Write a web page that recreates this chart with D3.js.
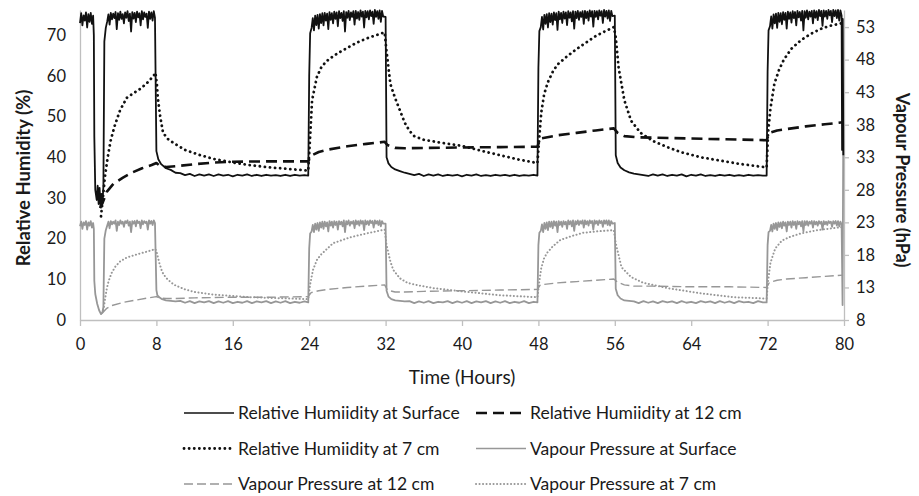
<!DOCTYPE html>
<html>
<head>
<meta charset="utf-8">
<script src="https://cdn.jsdelivr.net/npm/d3@7"></script>
<style>
  body { margin: 0; background: #fff; }
  text { font-family: Lato, "Open Sans", sans-serif; fill: #1a1a1a; }
</style>
</head>
<body>
<div id="chart"></div>
<script>
// tick labels
var hourTicks = [0, 8, 16, 24, 32, 40, 48, 56, 64, 72, 80];
var rhTicks = [0, 10, 20, 30, 40, 50, 60, 70];
var vpTicks = [8, 13, 18, 23, 28, 33, 38, 43, 48, 53];

// noisy stretches of the surface sensor
// (high phases every 0.125 h, low phases every 0.5 h)
var rhSurfHigh0 = [73.0, 75.4, 72.4, 74.9, 73.6, 75.6, 71.9, 75.2, 73.3, 75.5, 72.8, 74.8];
var rhSurfHigh1 = [
  73.4, 75.1, 72.6, 75.5, 73.9, 75.3, 74.2, 75.7, 71.5, 75.4,
  73.8, 75.8, 74.0, 75.2, 72.9, 75.6, 74.3, 75.9, 73.5, 75.3,
  70.9, 75.7, 74.1, 75.5, 73.2, 75.8, 74.4, 75.4, 72.4, 75.9,
  73.9, 75.6, 74.5, 75.3, 71.8, 75.8, 74.0, 75.6, 73.6, 75.9,
  74.3];
var rhSurfHigh2 = [
  71.8, 74.2, 71.2, 74.8, 72.5, 75.0, 71.6, 75.2, 73.0, 75.4,
  72.4, 75.5, 73.6, 75.3, 71.5, 75.7, 73.8, 75.4, 72.9, 75.8,
  74.0, 75.6, 72.2, 75.9, 74.2, 75.5, 73.5, 75.9, 70.9, 75.7,
  74.3, 76.0, 73.7, 75.6, 74.5, 75.9, 72.6, 76.0, 74.1, 75.7,
  73.8, 76.1, 74.6, 75.8, 71.9, 76.0, 74.4, 75.9, 73.9, 76.1,
  74.7, 75.8, 72.8, 76.2, 74.5, 75.9, 74.0, 76.1, 73.3, 76.0,
  74.6];
var rhSurfHigh3 = [
  72.0, 74.5, 71.4, 75.0, 72.8, 75.2, 71.9, 75.4, 73.2, 75.3,
  72.6, 75.6, 73.7, 75.4, 71.3, 75.8, 73.9, 75.5, 73.0, 75.8,
  74.1, 75.6, 72.5, 75.9, 74.3, 75.6, 73.4, 75.9, 71.6, 75.8,
  74.2, 76.0, 73.8, 75.7, 74.5, 75.9, 72.8, 76.0, 74.2, 75.8,
  73.6, 76.1, 74.6, 75.9, 72.1, 76.0, 74.5, 75.9, 73.9, 76.1,
  74.8, 75.9, 73.0, 76.2, 74.6, 76.0, 74.1, 76.1, 73.5, 76.0,
  74.7];
var rhSurfHigh4 = [
  72.2, 74.6, 71.6, 75.1, 72.9, 75.3, 71.8, 75.5, 73.3, 75.4,
  72.7, 75.7, 73.8, 75.5, 71.6, 75.8, 74.0, 75.6, 73.1, 75.9,
  74.2, 75.7, 72.4, 76.0, 74.4, 75.7, 73.6, 76.0, 71.2, 75.9,
  74.3, 76.1, 73.9, 75.8, 74.6, 76.0, 72.9, 76.1, 74.3, 75.9,
  73.7, 76.2, 74.7, 76.0, 72.3, 76.1, 74.6, 76.0, 74.0, 76.2,
  74.9, 76.0, 73.2, 76.2, 74.7, 76.1, 74.2, 76.2, 73.6, 76.1,
  74.8];
var rhSurfLow1 = [36.1, 35.6, 35.9, 35.4, 35.8, 35.5, 35.8, 35.4, 35.8, 35.5, 35.7, 35.3, 35.7, 35.5, 35.8, 35.4, 35.7, 35.4, 35.7, 35.5, 35.6, 35.4, 35.7, 35.4, 35.7, 35.5, 35.6];
var rhSurfLow2 = [35.9, 35.6, 35.9, 35.4, 35.8, 35.5, 35.8, 35.4, 35.7, 35.5, 35.7, 35.3, 35.7, 35.5, 35.8, 35.4, 35.6, 35.4, 35.7, 35.5, 35.7, 35.4, 35.7, 35.4, 35.6, 35.5, 35.7];
var rhSurfLow3 = [35.8, 35.6, 35.4, 35.8, 35.5, 35.8, 35.4, 35.7, 35.5, 35.8, 35.3, 35.7, 35.5, 35.8, 35.4, 35.6, 35.4, 35.7, 35.5, 35.7, 35.4, 35.6, 35.4, 35.7, 35.5, 35.6, 35.5];

var vpSurfHigh0 = [22.4, 23.1, 22.0, 23.0, 22.6, 23.2, 21.9, 23.0, 22.5, 23.2, 22.2, 22.9];
var vpSurfHigh1 = [
  22.5, 23.1, 22.1, 23.2, 22.7, 23.1, 22.8, 23.3, 21.7, 23.1,
  22.6, 23.3, 22.8, 23.1, 22.3, 23.2, 22.9, 23.3, 22.5, 23.1,
  21.5, 23.2, 22.8, 23.2, 22.4, 23.3, 22.9, 23.1, 22.1, 23.3,
  22.7, 23.2, 22.9, 23.1, 21.9, 23.3, 22.8, 23.2, 22.6, 23.3,
  22.9];
var vpSurfHigh2 = [
  21.6, 22.6, 21.5, 22.8, 21.9, 22.9, 21.7, 23.0, 22.2, 23.1,
  22.0, 23.1, 22.4, 23.0, 21.6, 23.2, 22.5, 23.1, 22.2, 23.2,
  22.6, 23.1, 21.9, 23.2, 22.7, 23.1, 22.4, 23.3, 21.5, 23.2,
  22.7, 23.3, 22.5, 23.1, 22.8, 23.2, 22.1, 23.3, 22.7, 23.2,
  22.5, 23.3, 22.8, 23.2, 21.8, 23.3, 22.7, 23.2, 22.6, 23.3,
  22.9, 23.2, 22.2, 23.3, 22.8, 23.2, 22.6, 23.3, 22.4, 23.2,
  22.8];
var vpSurfHigh3 = [
  21.7, 22.7, 21.5, 22.9, 22.0, 23.0, 21.8, 23.1, 22.3, 23.1,
  22.1, 23.2, 22.5, 23.1, 21.5, 23.2, 22.6, 23.1, 22.3, 23.2,
  22.7, 23.1, 22.0, 23.3, 22.7, 23.2, 22.4, 23.3, 21.7, 23.2,
  22.7, 23.3, 22.6, 23.2, 22.8, 23.3, 22.2, 23.3, 22.7, 23.2,
  22.5, 23.3, 22.9, 23.2, 21.9, 23.3, 22.8, 23.2, 22.6, 23.3,
  22.9, 23.2, 22.3, 23.3, 22.8, 23.3, 22.6, 23.3, 22.5, 23.2,
  22.8];
var vpSurfHigh4 = [
  21.7, 22.6, 21.6, 22.8, 22.0, 22.9, 21.8, 23.0, 22.3, 23.0,
  22.1, 23.1, 22.5, 23.0, 21.6, 23.1, 22.6, 23.1, 22.2, 23.2,
  22.6, 23.1, 22.0, 23.2, 22.7, 23.1, 22.4, 23.2, 21.6, 23.2,
  22.6, 23.2, 22.5, 23.1, 22.8, 23.2, 22.2, 23.2, 22.7, 23.1,
  22.5, 23.2, 22.8, 23.1, 21.9, 23.2, 22.7, 23.1, 22.6, 23.2,
  22.9, 23.1, 22.3, 23.2, 22.8, 23.2, 22.5, 23.2, 22.4, 23.1,
  22.7];
var vpSurfLow1 = [10.95, 10.65, 10.9, 10.6, 10.85, 10.7, 10.9, 10.6, 10.85, 10.65, 10.9, 10.6, 10.8, 10.65, 10.9, 10.6, 10.85, 10.7, 10.9, 10.6, 10.85, 10.65, 10.9, 10.6, 10.8, 10.65, 10.85];
var vpSurfLow2 = [10.9, 10.6, 10.85, 10.65, 10.9, 10.6, 10.8, 10.7, 10.9, 10.6, 10.85, 10.65, 10.9, 10.6, 10.85, 10.7, 10.9, 10.6, 10.85, 10.65, 10.9, 10.6, 10.8, 10.65, 10.9, 10.6, 10.8];
var vpSurfLow3 = [10.6, 10.9, 10.65, 10.85, 10.6, 10.9, 10.7, 10.85, 10.6, 10.9, 10.65, 10.8, 10.6, 10.9, 10.7, 10.85, 10.6, 10.9, 10.65, 10.85, 10.6, 10.9, 10.7, 10.8, 10.6, 10.9, 10.7];

// pair up a run of readings taken at a fixed step
function run(t0, step, vals) {
  return vals.map(function(v, i) { return [+(t0 + i * step).toFixed(3), v]; });
}

// Relative humidity (%) - left axis
var rhSurface = [].concat(
  run(0, 0.125, rhSurfHigh0),
  [[1.45, 70], [1.5, 45], [1.6, 32], [1.75, 29.5], [1.85, 33], [1.95, 28.5], [2.05, 32.5], [2.15, 27.8], [2.25, 31], [2.35, 28.5], [2.45, 33], [2.55, 68.5], [2.7, 71.8]],
  run(2.85, 0.125, rhSurfHigh1),
  [[8.0, 41.5], [8.2, 39.5], [8.5, 38.3], [9, 37.3], [9.5, 36.9], [10, 36.2]],
  run(10.5, 0.5, rhSurfLow1),
  [[23.9, 35.5], [24.0, 60], [24.1, 70.5]],
  run(24.25, 0.125, rhSurfHigh2),
  [[32.0, 74.5], [32.1, 40], [32.3, 38.5], [32.6, 37.6], [33, 37.0], [33.5, 36.6], [34, 36.2]],
  run(34.5, 0.5, rhSurfLow2),
  [[47.9, 35.5], [48.0, 62], [48.1, 71]],
  run(48.25, 0.125, rhSurfHigh3),
  [[56.0, 74.8], [56.1, 40.5], [56.3, 38.6], [56.6, 37.5], [57, 36.8], [57.5, 36.3], [58, 36.0]],
  run(58.5, 0.5, rhSurfLow3),
  [[71.9, 35.5], [72.0, 61], [72.1, 71.2]],
  run(72.25, 0.125, rhSurfHigh4),
  [[79.8, 41.8], [79.87, 74], [79.93, 40.5]]
);

var rh12 = [[2.1, 27.5], [2.4, 29], [2.8, 31.5], [3.5, 33.5], [4.5, 35], [5.5, 36.3], [6.5, 37.3], [7.5, 38.1], [8.0, 38.6],
  [8.3, 38.0], [9, 37.6], [10, 37.8], [12, 38.3], [14, 38.7], [16, 38.9], [20, 39.0], [23.9, 39.0],
  [24.2, 40.4], [25, 41.3], [26, 41.9], [28, 42.7], [30, 43.3], [31.9, 43.8],
  [32.2, 43.0], [33, 42.3], [34, 42.2], [36, 42.3], [40, 42.4], [44, 42.5], [47.9, 42.6],
  [48.2, 44.6], [50, 45.4], [52, 46.0], [54, 46.6], [55.9, 47.1],
  [56.3, 46.0], [57, 45.2], [58.5, 44.9], [64, 44.6], [71.9, 44.2],
  [72.2, 46.0], [73, 46.6], [76, 47.6], [78, 48.1], [79.9, 48.6]];

var rh7 = [[2.2, 25.5], [2.4, 30], [2.6, 35], [2.9, 40], [3.2, 44], [3.6, 47.5], [4.2, 51.6], [4.9, 54.6], [5.5, 55.6], [6.3, 56.8], [7, 58.2], [7.7, 60], [7.9, 60.8],
  [8.05, 58], [8.15, 54.5], [8.4, 50], [8.7, 46], [9.2, 44.5], [9.8, 43.5], [11, 41.8], [12.6, 40.5], [14, 39.6], [16, 38.7], [18, 38.0], [20, 37.5], [23, 36.9], [23.9, 36.7],
  [24.1, 45], [24.3, 54], [24.8, 59.7], [25.3, 62.3], [26, 64], [27, 65.6], [28, 66.9], [29, 68.2], [30, 69.2], [31, 70], [31.9, 70.7],
  [32.1, 66], [32.5, 58], [33, 54.5], [33.5, 51.5], [34, 48.5], [34.5, 46.5], [35, 45.2], [36, 44.3], [38, 43.5], [40, 42.8], [42, 41.6], [44, 40.5], [46, 39.4], [47.9, 38.6],
  [48.1, 45], [48.3, 51], [48.6, 55.5], [49, 58.5], [49.5, 61], [50, 62.8], [51, 64.8], [52, 66.6], [53, 68.2], [54, 69.8], [55, 71], [55.9, 72],
  [56.1, 69.5], [56.4, 62], [57, 54], [57.7, 49], [58.7, 46], [60, 44], [61.5, 42.5], [63, 41.2], [65, 40], [67, 39.2], [69, 38.4], [71.9, 37.5],
  [72.05, 46], [72.3, 52], [72.7, 58], [73.2, 61.5], [73.7, 64], [74.5, 66.7], [75.5, 68.8], [76.5, 70.3], [77.5, 71.5], [78.5, 72.3], [79.9, 73]];

// Vapour pressure (hPa) - right axis
var vpSurface = [].concat(
  run(0, 0.125, vpSurfHigh0),
  [[1.45, 22], [1.5, 14], [1.6, 12], [1.8, 10.5], [2.0, 9.5], [2.2, 8.9], [2.35, 9.2], [2.45, 10], [2.55, 20.5], [2.7, 21.8]],
  run(2.85, 0.125, vpSurfHigh1),
  [[8.0, 12.6], [8.1, 11.8], [8.3, 11.5], [8.6, 11.2], [9, 11.0], [10, 10.85]],
  run(10.5, 0.5, vpSurfLow1),
  [[23.9, 10.7], [24.0, 19], [24.1, 21.3]],
  run(24.25, 0.125, vpSurfHigh2),
  [[32.0, 22.8], [32.1, 12.5], [32.3, 11.6], [32.6, 11.2], [33, 11.0], [34, 10.85]],
  run(34.5, 0.5, vpSurfLow2),
  [[47.9, 10.7], [48.0, 19.5], [48.1, 21.4]],
  run(48.25, 0.125, vpSurfHigh3),
  [[56.0, 22.9], [56.1, 12.8], [56.3, 11.8], [56.6, 11.3], [57, 11.0], [58, 10.85]],
  run(58.5, 0.5, vpSurfLow3),
  [[71.9, 10.7], [72.0, 19.5], [72.1, 21.5]],
  run(72.25, 0.125, vpSurfHigh4),
  [[79.85, 10.3], [79.93, 38.2]]
);

var vp12 = [[2.3, 9.0], [2.8, 9.8], [3.3, 10.2], [4.5, 10.7], [6, 11.1], [8.0, 11.6],
  [8.3, 11.4], [9, 11.3], [10, 11.3], [12, 11.4], [16, 11.5], [20, 11.5], [23.9, 11.6],
  [24.2, 12.2], [25, 12.5], [26, 12.7], [28, 13.0], [30, 13.2], [31.9, 13.4],
  [32.2, 12.6], [33, 12.3], [34, 12.3], [36, 12.4], [40, 12.5], [44, 12.6], [47.9, 12.7],
  [48.2, 13.4], [50, 13.7], [52, 13.9], [54, 14.1], [55.9, 14.3],
  [56.3, 13.8], [57, 13.4], [58, 13.2], [60, 13.2], [64, 13.1], [68, 13.1], [71.9, 13.0],
  [72.2, 13.8], [73, 14.1], [74, 14.3], [76, 14.5], [78, 14.7], [79.9, 14.9]];

var vp7 = [[2.45, 9.5], [2.6, 11], [2.8, 12.8], [3.0, 14], [3.3, 15.2], [3.7, 16.2], [4.2, 17], [4.9, 17.6], [6, 18.1], [7, 18.5], [7.9, 18.9],
  [8.05, 18.3], [8.3, 16.8], [8.6, 15.4], [9, 14.5], [9.5, 13.8], [10, 13.3], [11, 12.7], [12, 12.3], [14, 11.9], [16, 11.7], [18, 11.5], [20, 11.4], [22, 11.3], [23.9, 11.2],
  [24.1, 13.5], [24.4, 15.7], [24.8, 17.2], [25.2, 18], [26.5, 19.8], [28.3, 20.7], [30, 21.3], [31.9, 21.9],
  [32.1, 19.5], [32.5, 17], [32.8, 15.7], [33.5, 14.4], [34.3, 13.7], [35.5, 13.3], [37, 12.9], [40, 12.4], [44, 11.8], [47.9, 11.5],
  [48.1, 14], [48.3, 16], [48.6, 17.5], [48.9, 18.3], [49.5, 19.3], [50.3, 20.3], [51.5, 20.9], [52.7, 21.4], [54, 21.6], [55.9, 21.8],
  [56.1, 19.8], [56.7, 16.1], [57.7, 14.6], [59, 13.7], [61.5, 12.9], [65, 12.1], [68.5, 11.5], [71.9, 11.3],
  [72.05, 14], [72.3, 16.8], [72.8, 19], [73.5, 20.2], [74.4, 20.8], [75.5, 21.3], [77.2, 21.8], [79.9, 22.3]];

var legendLabels = [
  "Relative Humiidity at Surface", "Relative Humiidity at 12 cm",
  "Relative Humiidity at 7 cm", "Vapour Pressure at Surface",
  "Vapour Pressure at 12 cm", "Vapour Pressure at 7 cm"
];

var grey = "#979797";
var styles = [
  { stroke: "#111", width: 1.8, key: 1.4, dash: null, cap: "butt" },
  { stroke: "#111", width: 2.6, key: 2.6, dash: "11,6", cap: "butt" },
  { stroke: "#111", width: 2.8, key: 2.8, dash: "0.1,5", cap: "round" },
  { stroke: grey, width: 1.8, key: 1.4, dash: null, cap: "butt" },
  { stroke: grey, width: 1.4, key: 1.4, dash: "9,4", cap: "butt" },
  { stroke: grey, width: 2.0, key: 2.0, dash: "0.1,3.4", cap: "round" }
];

var svgWidth = 919, svgHeight = 496;
var svg = d3.select("#chart").append("svg")
  .attr("width", svgWidth).attr("height", svgHeight)
  .style("background", "#fff");

var x = d3.scaleLinear().domain([0, 80]).range([80, 844]);
var yLeft = d3.scaleLinear().domain([0, 76.2]).range([320, 10]);
var yRight = d3.scaleLinear().domain([8, 8 + 76.2 * 0.625]).range([320, 10]);

// axes
var axisColor = "#bfbfbf";
var gx = svg.append("g").attr("transform", "translate(0,320)")
  .call(d3.axisBottom(x).tickValues(hourTicks).tickSize(6).tickSizeOuter(0).tickPadding(12));
var gl = svg.append("g").attr("transform", "translate(80,0)")
  .call(d3.axisLeft(yLeft).tickValues(rhTicks).tickSize(0).tickSizeOuter(0).tickPadding(14));
var gr = svg.append("g").attr("transform", "translate(844,0)")
  .call(d3.axisRight(yRight).tickValues(vpTicks).tickSize(5).tickSizeOuter(0).tickPadding(7));
[gx, gl, gr].forEach(function(g) {
  g.selectAll("path.domain").attr("stroke", axisColor).attr("stroke-width", 1.3);
  g.selectAll(".tick line").attr("stroke", axisColor).attr("stroke-width", 1.3);
  g.selectAll(".tick text").attr("font-size", 16.5).attr("fill", "#1a1a1a")
    .attr("font-family", "Lato, 'Open Sans', sans-serif");
});

// series
var lineL = d3.line().x(function(d) { return x(d[0]); }).y(function(d) { return yLeft(d[1]); });
var lineR = d3.line().x(function(d) { return x(d[0]); }).y(function(d) { return yRight(d[1]); });

var series = [
  { data: vp12, line: lineR, s: styles[4] },
  { data: vp7, line: lineR, s: styles[5] },
  { data: vpSurface, line: lineR, s: styles[3] },
  { data: rh12, line: lineL, s: styles[1] },
  { data: rh7, line: lineL, s: styles[2] },
  { data: rhSurface, line: lineL, s: styles[0] }
];
series.forEach(function(d) {
  svg.append("path")
    .attr("d", d.line(d.data))
    .attr("fill", "none")
    .attr("stroke", d.s.stroke)
    .attr("stroke-width", d.s.width)
    .attr("stroke-dasharray", d.s.dash)
    .attr("stroke-linecap", d.s.cap)
    .attr("stroke-linejoin", "round");
});

// axis titles
svg.append("text")
  .attr("transform", "translate(30,178) rotate(-90)")
  .attr("text-anchor", "middle").attr("font-size", 18.5).attr("font-weight", "bold")
  .text("Relative Humidity (%)");
svg.append("text")
  .attr("transform", "translate(896,180) rotate(90)")
  .attr("text-anchor", "middle").attr("font-size", 18).attr("font-weight", "bold")
  .text("Vapour Pressure (hPa)");
svg.append("text")
  .attr("x", 462).attr("y", 384)
  .attr("text-anchor", "middle").attr("font-size", 19)
  .text("Time (Hours)");

// legend, two columns
var legend = svg.append("g");
legendLabels.forEach(function(label, i) {
  var col = i % 2, row = Math.floor(i / 2);
  var ly = 413 + row * 35.5;
  var x0 = col === 0 ? 184 : 476;
  var s = styles[i];
  legend.append("line")
    .attr("x1", x0).attr("x2", x0 + 50).attr("y1", ly).attr("y2", ly)
    .attr("stroke", s.stroke).attr("stroke-width", s.key)
    .attr("stroke-dasharray", s.dash).attr("stroke-linecap", s.cap);
  legend.append("text")
    .attr("x", col === 0 ? 238 : 530).attr("y", ly + 6)
    .attr("font-size", 17.5)
    .text(label);
});
</script>
</body>
</html>
